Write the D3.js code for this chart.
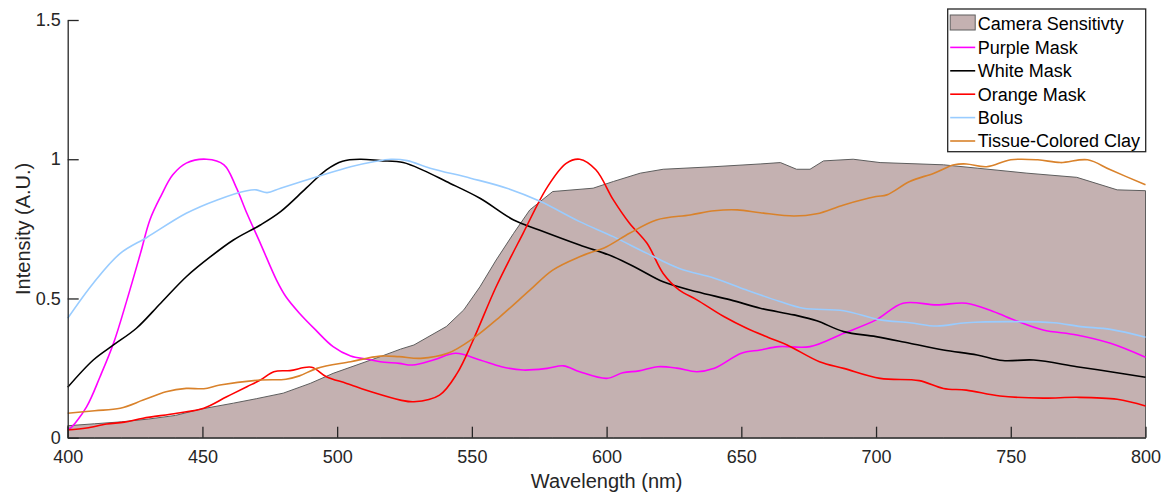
<!DOCTYPE html>
<html>
<head>
<meta charset="utf-8">
<script src="https://cdn.jsdelivr.net/npm/d3@7"></script>
<style>
  body { margin: 0; background: #fff; }
  svg { display: block; font-family: "Liberation Sans", Arial, sans-serif; }
</style>
</head>
<body>
<div id="chart"></div>
<script>
// [wavelength nm, intensity]
const cameraSensitivity = [[400,0.043],[410,0.05],[420,0.057],[430,0.067],[440,0.08],[449,0.102],[461.5,0.124],[470,0.14],[480,0.16],[490,0.195],[498.5,0.231],[516,0.291],[523.5,0.318],[528.5,0.333],[540.5,0.399],[547,0.459],[553,0.542],[559,0.638],[565.5,0.734],[571.5,0.818],[580,0.884],[595,0.896],[602.5,0.92],[612.5,0.95],[621,0.964],[639.5,0.973],[657,0.983],[664.5,0.988],[670.5,0.964],[675.5,0.964],[680.5,0.994],[691.5,1.0],[701.5,0.988],[725,0.98],[737.5,0.968],[756,0.95],[774.5,0.935],[789.5,0.89],[800,0.887]];
const purpleMask = [[400,0.03],[401,0.034],[407,0.111],[412,0.219],[417,0.339],[422,0.495],[427,0.662],[430.5,0.782],[434.5,0.866],[439,0.944],[444,0.986],[451.5,1.0],[458,0.98],[462.5,0.9],[466.5,0.806],[471.5,0.698],[477.5,0.566],[481,0.506],[486,0.447],[492,0.387],[498.5,0.327],[505,0.293],[511,0.282],[516,0.273],[523,0.267],[528,0.261],[536,0.28],[544,0.303],[553,0.279],[561,0.255],[569,0.243],[578,0.249],[584,0.258],[590,0.237],[600,0.213],[606,0.233],[612,0.24],[619,0.255],[626,0.25],[633.5,0.237],[640,0.249],[650,0.303],[657,0.315],[664,0.327],[675.5,0.327],[688,0.375],[700,0.423],[710,0.483],[722.5,0.477],[733.5,0.483],[743.5,0.453],[752,0.42],[762,0.387],[774.5,0.369],[787,0.339],[800,0.289]];
const whiteMask = [[400,0.181],[409.5,0.279],[417,0.333],[425.5,0.393],[434.5,0.483],[444,0.578],[453,0.65],[461.5,0.71],[471.5,0.764],[479,0.812],[488.5,0.896],[496,0.962],[502,0.993],[508.5,1.0],[516,0.995],[524.5,0.988],[532,0.96],[540.5,0.92],[553,0.86],[565.5,0.782],[575,0.746],[590,0.692],[602.5,0.65],[612,0.605],[621,0.56],[633.5,0.524],[646,0.495],[657,0.465],[669.5,0.441],[678,0.42],[688,0.381],[700,0.363],[712.5,0.339],[725,0.315],[737.5,0.297],[747,0.277],[758.5,0.279],[774.5,0.255],[787,0.237],[800,0.217]];
const orangeMask = [[400,0.028],[407,0.035],[414.5,0.049],[421,0.056],[428,0.07],[440.5,0.088],[450.5,0.106],[459,0.147],[466.5,0.183],[471.5,0.207],[476.5,0.237],[482.5,0.241],[490.5,0.253],[496,0.219],[503.5,0.195],[513.5,0.162],[523.5,0.135],[528.5,0.129],[538,0.153],[544.5,0.231],[550.5,0.351],[559,0.542],[569,0.734],[578,0.9],[585,0.985],[590,1.0],[596,0.962],[602.5,0.854],[608.5,0.77],[615,0.698],[621,0.59],[627,0.53],[633.5,0.495],[643.5,0.435],[652,0.393],[660,0.36],[667,0.333],[679,0.273],[688,0.249],[701.5,0.213],[716,0.205],[725,0.177],[733.5,0.171],[746,0.15],[762,0.142],[774.5,0.145],[789.5,0.138],[800,0.114]];
const bolus = [[400,0.429],[409.5,0.555],[419.5,0.662],[429.5,0.72],[444,0.806],[455.5,0.854],[466.5,0.887],[470,0.89],[474,0.88],[479,0.896],[492.5,0.937],[505,0.973],[513.5,0.991],[520,1.0],[526,0.995],[534.5,0.968],[549.5,0.932],[563,0.896],[575.5,0.848],[590,0.776],[602.5,0.722],[615,0.662],[627,0.608],[640,0.573],[652,0.53],[664,0.49],[673,0.465],[688,0.456],[701.5,0.423],[712.5,0.413],[722.5,0.401],[733.5,0.413],[750,0.417],[766,0.413],[776,0.399],[787,0.389],[800,0.361]];
const tissueClay = [[400,0.088],[410,0.097],[419.5,0.106],[428,0.135],[436.5,0.165],[444,0.177],[450.5,0.176],[456.5,0.189],[471.5,0.207],[481,0.21],[486,0.222],[492.5,0.249],[505,0.273],[516,0.293],[523,0.291],[531,0.285],[541,0.303],[550.5,0.357],[560.5,0.435],[571.5,0.53],[580,0.602],[590,0.65],[600,0.686],[608.5,0.734],[618.5,0.782],[631,0.8],[640,0.815],[648.5,0.818],[657,0.808],[669.5,0.796],[678,0.804],[688,0.836],[700,0.866],[704,0.872],[712.5,0.92],[721.5,0.95],[729,0.98],[733.5,0.983],[741,0.973],[750,0.998],[760,0.998],[768.5,0.988],[778.5,0.998],[787,0.962],[800,0.908]];

const xTicks = [400, 450, 500, 550, 600, 650, 700, 750, 800];
const yTicks = [0, 0.5, 1, 1.5];

const series = [
  { name: "Purple Mask", data: purpleMask, color: "#ff00ff" },
  { name: "White Mask", data: whiteMask, color: "#000000" },
  { name: "Orange Mask", data: orangeMask, color: "#ff0000" },
  { name: "Bolus", data: bolus, color: "#99ccff" },
  { name: "Tissue-Colored Clay", data: tissueClay, color: "#d9822b" },
];

const width = 1176, height = 498;
const margin = { top: 20, right: 30.5, bottom: 60.3, left: 67.7 };
const innerW = width - margin.left - margin.right;
const innerH = height - margin.top - margin.bottom;

const svg = d3.select("#chart").append("svg")
  .attr("width", width)
  .attr("height", height);

const g = svg.append("g").attr("transform", `translate(${margin.left},${margin.top})`);

const x = d3.scaleLinear().domain([400, 800]).range([0, innerW]);
const y = d3.scaleLinear().domain([0, 1.5]).range([innerH, 0]);

// camera sensitivity area
const area = d3.area()
  .x((d) => x(d[0]))
  .y0(y(0))
  .y1((d) => y(d[1]));
g.append("path")
  .datum(cameraSensitivity)
  .attr("d", area)
  .attr("fill", "#c4b1b1")
  .attr("stroke", "#5e5e5e")
  .attr("stroke-width", 1);

const line = d3.line()
  .x((d) => x(d[0]))
  .y((d) => y(d[1]))
  .curve(d3.curveCatmullRom.alpha(0.5));

series.forEach((s) => {
  g.append("path")
    .datum(s.data)
    .attr("d", line)
    .attr("fill", "none")
    .attr("stroke", s.color)
    .attr("stroke-width", 1.6);
});

// axes, ticks point inward like matlab
const xAxis = g.append("g")
  .attr("transform", `translate(0,${innerH})`)
  .call(d3.axisBottom(x).tickValues(xTicks).tickFormat(d3.format("d")).tickSizeInner(-11).tickSizeOuter(0).tickPadding(13));
const yAxis = g.append("g")
  .call(d3.axisLeft(y).tickValues(yTicks).tickFormat((d) => String(d)).tickSizeInner(-11).tickSizeOuter(0).tickPadding(7));

[xAxis, yAxis].forEach((a) => {
  a.select(".domain").attr("stroke", "#262626").attr("stroke-width", 1.3);
  a.selectAll(".tick line").attr("stroke", "#262626").attr("stroke-width", 1.3);
  a.selectAll(".tick text").attr("fill", "#262626").style("font-size", "18px");
});

g.append("text")
  .attr("x", innerW / 2)
  .attr("y", innerH + 50.6)
  .attr("text-anchor", "middle")
  .attr("fill", "#262626")
  .style("font-size", "20px")
  .text("Wavelength (nm)");

g.append("text")
  .attr("transform", `translate(${-37.7},${innerH / 2}) rotate(-90)`)
  .attr("text-anchor", "middle")
  .attr("fill", "#262626")
  .style("font-size", "20px")
  .text("Intensity (A.U.)");

// legend
const legend = svg.append("g").attr("transform", "translate(947.7,9)");
legend.append("rect")
  .attr("width", 198)
  .attr("height", 142.7)
  .attr("fill", "#fff")
  .attr("stroke", "#262626")
  .attr("stroke-width", 1.3);

const rowH = 23.4;
legend.append("rect")
  .attr("x", 2.5)
  .attr("y", 6)
  .attr("width", 25)
  .attr("height", 15)
  .attr("fill", "#c4b1b1")
  .attr("stroke", "#5e5e5e");
legend.append("text")
  .attr("x", 30)
  .attr("y", 15)
  .attr("dy", "0.35em")
  .attr("fill", "#000")
  .style("font-size", "18px")
  .text("Camera Sensitivty");

series.forEach((s, i) => {
  const cy = 15 + rowH * (i + 1);
  legend.append("line")
    .attr("x1", 2.5).attr("x2", 27.5)
    .attr("y1", cy).attr("y2", cy)
    .attr("stroke", s.color)
    .attr("stroke-width", 1.6);
  legend.append("text")
    .attr("x", 30)
    .attr("y", cy)
    .attr("dy", "0.35em")
    .attr("fill", "#000")
    .style("font-size", "18px")
    .text(s.name);
});
</script>
</body>
</html>
